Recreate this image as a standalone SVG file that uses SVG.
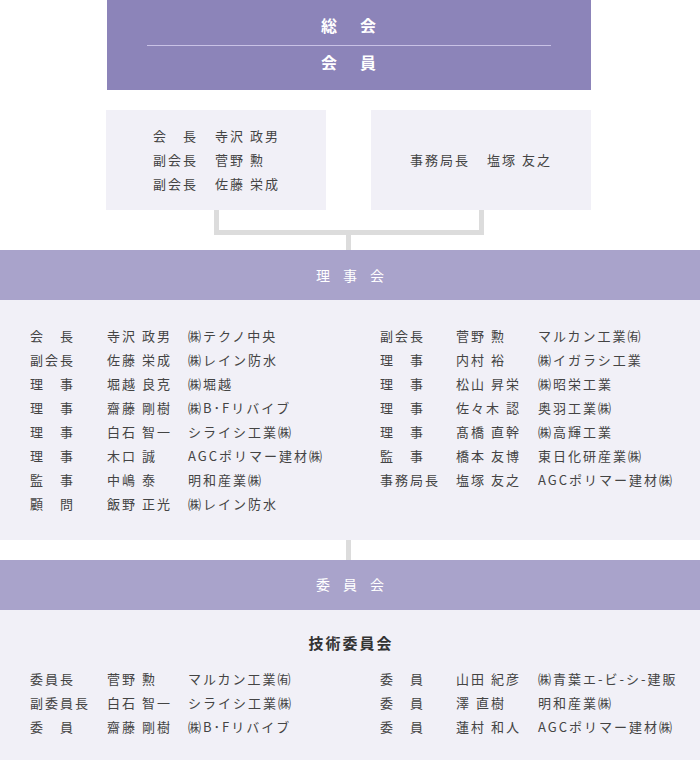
<svg xmlns="http://www.w3.org/2000/svg" width="700" height="760" viewBox="0 0 700 760">
<style>
text{font-family:"Noto Sans CJK JP","Noto Sans",sans-serif}
.t{font-size:13px;fill:#444;letter-spacing:2px}
.w{fill:#fff}
.hd{font-size:16px;font-weight:bold;letter-spacing:3.5px;text-anchor:middle}
.bd{font-size:14px;letter-spacing:13px;text-anchor:middle}
.panel{fill:#f1f0f7}
.band{fill:#a9a3cb}
.conn{fill:none;stroke:#dcdcdc;stroke-width:5}
</style>
<rect width="700" height="760" fill="#fff"/>
<g id="connectors">
<path class="conn" d="M216.5 210V232.5H481.5V210M348.5 232.5V250"/>
<path class="conn" d="M348.5 540V560"/>
</g>
<g id="soukai">
<rect x="107" y="0" width="484" height="90" fill="#8c84b9"/>
<line x1="147" y1="45.5" x2="551" y2="45.5" stroke="#c9c2e6" stroke-width="1"/>
<text class="w hd" x="350.3" y="32">総　会</text>
<text class="w hd" x="350.3" y="69">会　員</text>
</g>
<g id="officers">
<rect x="106" y="110" width="220" height="100" class="panel"/>
<text class="t" x="153" y="141">会　長</text><text class="t" x="215" y="141">寺沢 政男</text>
<text class="t" x="153" y="165">副会長</text><text class="t" x="215" y="165">菅野 勲</text>
<text class="t" x="153" y="189">副会長</text><text class="t" x="215" y="189">佐藤 栄成</text>
</g>
<g id="secretariat">
<rect x="371" y="110" width="220" height="100" class="panel"/>
<text class="t" x="410" y="165">事務局長</text><text class="t" x="487" y="165">塩塚 友之</text>
</g>
<g id="rijikai">
<rect x="0" y="250" width="700" height="50" class="band"/>
<text class="w bd" x="356.5" y="281">理事会</text>
<rect x="0" y="300" width="700" height="240" class="panel"/>
<g class="t">
<text x="30" y="341">会　長</text><text x="107" y="341">寺沢 政男</text><text x="188" y="341">㈱テクノ中央</text>
<text x="30" y="365">副会長</text><text x="107" y="365">佐藤 栄成</text><text x="188" y="365">㈱レイン防水</text>
<text x="30" y="389">理　事</text><text x="107" y="389">堀越 良克</text><text x="188" y="389">㈱堀越</text>
<text x="30" y="413">理　事</text><text x="107" y="413">齋藤 剛樹</text><text x="188" y="413">㈱B･Fリバイブ</text>
<text x="30" y="437">理　事</text><text x="107" y="437">白石 智一</text><text x="188" y="437">シライシ工業㈱</text>
<text x="30" y="461">理　事</text><text x="107" y="461">木口 誠</text><text x="188" y="461">AGCポリマー建材㈱</text>
<text x="30" y="485">監　事</text><text x="107" y="485">中嶋 泰</text><text x="188" y="485">明和産業㈱</text>
<text x="30" y="509">顧　問</text><text x="107" y="509">飯野 正光</text><text x="188" y="509">㈱レイン防水</text>
<text x="380" y="341">副会長</text><text x="456" y="341">菅野 勲</text><text x="538" y="341">マルカン工業㈲</text>
<text x="380" y="365">理　事</text><text x="456" y="365">内村 裕</text><text x="538" y="365">㈱イガラシ工業</text>
<text x="380" y="389">理　事</text><text x="456" y="389">松山 昇栄</text><text x="538" y="389">㈱昭栄工業</text>
<text x="380" y="413">理　事</text><text x="456" y="413">佐々木 認</text><text x="538" y="413">奥羽工業㈱</text>
<text x="380" y="437">理　事</text><text x="456" y="437">髙橋 直幹</text><text x="538" y="437">㈱高輝工業</text>
<text x="380" y="461">監　事</text><text x="456" y="461">橋本 友博</text><text x="538" y="461">東日化研産業㈱</text>
<text x="380" y="485">事務局長</text><text x="456" y="485">塩塚 友之</text><text x="538" y="485">AGCポリマー建材㈱</text>
</g>
</g>
<g id="iinkai">
<rect x="0" y="560" width="700" height="50" class="band"/>
<text class="w bd" x="356.5" y="590">委員会</text>
<rect x="0" y="610" width="700" height="150" class="panel"/>
<text x="351" y="649" font-size="15" font-weight="bold" fill="#333" letter-spacing="2" text-anchor="middle">技術委員会</text>
<g class="t">
<text x="30" y="684">委員長</text><text x="107" y="684">菅野 勲</text><text x="188" y="684">マルカン工業㈲</text>
<text x="30" y="708">副委員長</text><text x="107" y="708">白石 智一</text><text x="188" y="708">シライシ工業㈱</text>
<text x="30" y="732">委　員</text><text x="107" y="732">齋藤 剛樹</text><text x="188" y="732">㈱B･Fリバイブ</text>
<text x="380" y="684">委　員</text><text x="456" y="684">山田 紀彦</text><text x="538" y="684">㈱青葉エ-ビ-シ-建販</text>
<text x="380" y="708">委　員</text><text x="456" y="708">澤 直樹</text><text x="538" y="708">明和産業㈱</text>
<text x="380" y="732">委　員</text><text x="456" y="732">蓮村 和人</text><text x="538" y="732">AGCポリマー建材㈱</text>
</g>
</g>
</svg>
